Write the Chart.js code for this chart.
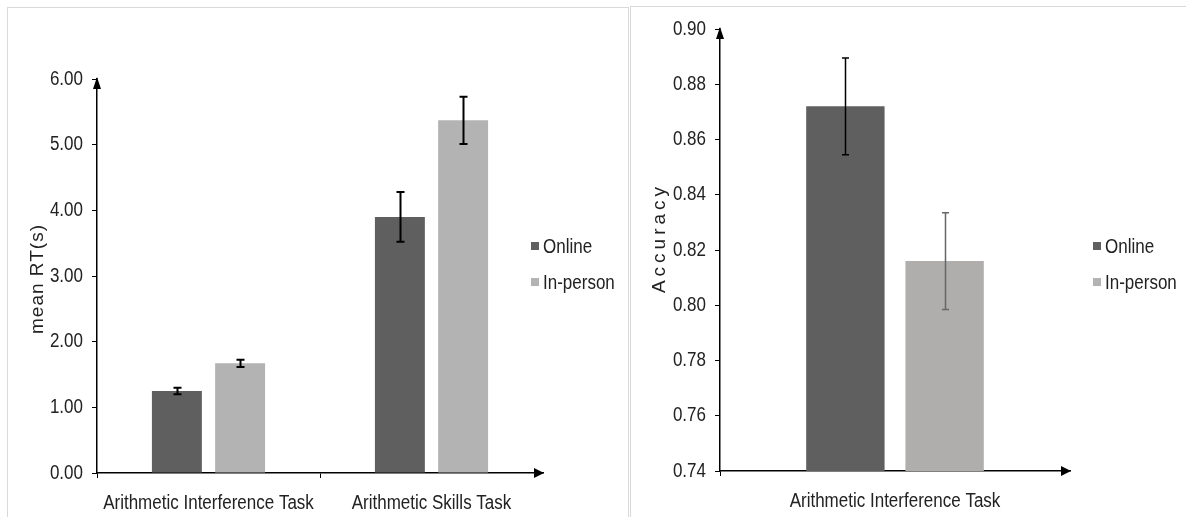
<!DOCTYPE html>
<html><head><meta charset="utf-8">
<script src="https://cdn.jsdelivr.net/npm/chart.js@4.4.0/dist/chart.umd.min.js"></script>
<style>
html,body{margin:0;padding:0;background:#fff;width:1186px;height:517px;overflow:hidden;position:relative}
.frame{position:absolute;border:1px solid #d9d9d9;box-sizing:border-box;pointer-events:none}
#f1{left:7px;top:7px;width:622px;height:540px}
#f2{left:630px;top:6px;width:620px;height:540px}
.wrap{position:absolute;top:0}
#w1{left:0;width:628px;height:517px}
#w2{left:628px;width:558px;height:517px}
canvas{display:block}
</style></head>
<body>
<div class="frame" id="f1"></div>
<div class="frame" id="f2"></div>
<div class="wrap" id="w1"><canvas id="c1" width="628" height="517"></canvas></div>
<div class="wrap" id="w2"><canvas id="c2" width="558" height="517"></canvas></div>
<script>
// ---- data ----
const seriesNames = ['Online', 'In-person'];
const rtCategories = ['Arithmetic Interference Task', 'Arithmetic Skills Task'];
const rtOnline = [1.25, 3.90];
const rtInPerson = [1.67, 5.37];
const rtOnlineErr = [0.05, 0.38];
const rtInPersonErr = [0.055, 0.36];
const rtAxisTitle = 'mean RT(s)';
const rtMin = 0, rtMax = 6, rtStep = 1;

const accCategories = ['Arithmetic Interference Task'];
const accOnline = [0.872];
const accInPerson = [0.816];
const accOnlineErr = [0.0175];
const accInPersonErr = [0.0175];
const accAxisTitle = 'Accuracy';
const accMin = 0.74, accMax = 0.90, accStep = 0.02;

// ---- styling ----
const FONT = "'Liberation Sans', Arial, sans-serif";
const TXT = '#222';
const NARROW_SCALE = 0.85; // emulate the condensed face of the original

const decor = {
  id: 'decor',
  beforeInit(chart) {
    const ctx = chart.ctx;
    const orig = ctx.fillText.bind(ctx);
    ctx.__plainFillText = orig;
    ctx.fillText = function (t, x, y) {
      ctx.save();
      ctx.translate(x, y);
      ctx.scale(NARROW_SCALE, 1);
      orig(t, 0, 0);
      ctx.restore();
    };
  },
  afterDatasetsDraw(chart, args, o) {
    const ctx = chart.ctx, ys = chart.scales.y;
    chart.data.datasets.forEach((ds, i) => {
      const meta = chart.getDatasetMeta(i);
      meta.data.forEach((bar, j) => {
        const v = ds.data[j], e = ds.errors[j];
        const x = Math.round(bar.x) + 0.5;
        const y1 = ys.getPixelForValue(v + e), y2 = ys.getPixelForValue(v - e);
        ctx.save();
        ctx.strokeStyle = ds.errorColor;
        ctx.lineWidth = o.errWidth;
        ctx.beginPath();
        ctx.moveTo(x, y1); ctx.lineTo(x, y2);
        ctx.moveTo(x - o.cap, y1); ctx.lineTo(x + o.cap, y1);
        ctx.moveTo(x - o.cap, y2); ctx.lineTo(x + o.cap, y2);
        ctx.stroke();
        ctx.restore();
      });
    });
  },
  afterDraw(chart, args, o) {
    const ctx = chart.ctx;
    const {left, right, top, bottom} = chart.chartArea;
    ctx.save();
    ctx.fillStyle = '#000';
    // y-axis arrow
    ctx.beginPath();
    ctx.moveTo(left, top - 2); ctx.lineTo(left - 4, top + 10); ctx.lineTo(left + 4, top + 10);
    ctx.closePath(); ctx.fill();
    // x-axis arrow
    ctx.beginPath();
    ctx.moveTo(right + 1, bottom); ctx.lineTo(right - 9, bottom - 5); ctx.lineTo(right - 9, bottom + 5);
    ctx.closePath(); ctx.fill();
    // axis title (regular width face)
    ctx.fillStyle = TXT;
    ctx.font = o.titleFont;
    ctx.letterSpacing = o.titleSpacing;
    ctx.textAlign = 'center';
    ctx.textBaseline = 'alphabetic';
    ctx.translate(o.titleX, o.titleY);
    ctx.rotate(-Math.PI / 2);
    ctx.__plainFillText(o.title, 0, 0);
    ctx.restore();
    // legend
    ctx.save();
    ctx.font = '20px ' + FONT;
    ctx.textBaseline = 'middle';
    ctx.textAlign = 'left';
    chart.data.datasets.forEach((ds, i) => {
      const y = o.legendY[i];
      ctx.fillStyle = ds.legendColor;
      ctx.fillRect(o.legendX, y - 5, 8, 8);
      ctx.fillStyle = TXT;
      ctx.fillText(ds.label, o.legendX + o.legendGap, y);
    });
    ctx.restore();
  }
};

function makeChart(id, cfg) {
  return new Chart(document.getElementById(id), {
    type: 'bar',
    data: {
      labels: cfg.labels,
      datasets: [
        { label: seriesNames[0], data: cfg.online, errors: cfg.onlineErr, backgroundColor: '#5f5f5f',
          legendColor: '#606060', errorColor: '#000', borderWidth: 0 },
        { label: seriesNames[1], data: cfg.inPerson, errors: cfg.inPersonErr, backgroundColor: cfg.ipColor,
          legendColor: '#b3b3b3', errorColor: cfg.ipErrColor, borderWidth: 0 }
      ]
    },
    options: {
      responsive: false, animation: false, devicePixelRatio: 1,
      layout: { padding: { left: 0, right: cfg.padRight, top: cfg.padTop, bottom: cfg.padBottom } },
      datasets: { bar: { categoryPercentage: 0.567, barPercentage: 0.79 } },
      plugins: {
        legend: { display: false }, tooltip: { enabled: false },
        decor: cfg.decor
      },
      scales: {
        x: {
          grid: { display: true, drawOnChartArea: false, drawTicks: true, tickLength: 5, offset: true,
                  color: c => (c.index === undefined ? 'rgba(0,0,0,0)' : '#000') },
          border: { display: true, color: '#000', width: 1.5 },
          ticks: { font: { family: FONT, size: 20 }, color: TXT, padding: 13, maxRotation: 0, autoSkip: false },
          afterFit(s) { s.height = 44; }
        },
        y: {
          min: cfg.min, max: cfg.max,
          grid: { display: true, drawOnChartArea: false, drawTicks: true, tickLength: 5, color: '#000' },
          border: { display: true, color: '#000', width: 1.5 },
          ticks: { stepSize: cfg.step, font: { family: FONT, size: 20 }, color: TXT, padding: 9,
                   callback: v => Number(v).toFixed(2) },
          afterFit(s) { s.width = cfg.yWidth; }
        }
      }
    },
    plugins: [decor]
  });
}

makeChart('c1', {
  labels: rtCategories, online: rtOnline, inPerson: rtInPerson,
  onlineErr: rtOnlineErr, inPersonErr: rtInPersonErr,
  ipColor: '#b3b3b3', ipErrColor: '#000',
  min: rtMin, max: rtMax, step: rtStep,
  yWidth: 97, padRight: 85, padTop: 79, padBottom: 0,
  decor: { errWidth: 2, cap: 4, title: rtAxisTitle, titleX: 43, titleY: 279,
           titleFont: '19px ' + FONT, titleSpacing: '1px',
           legendX: 531, legendGap: 12, legendY: [247, 283] }
});

makeChart('c2', {
  labels: accCategories, online: accOnline, inPerson: accInPerson,
  onlineErr: accOnlineErr, inPersonErr: accInPersonErr,
  ipColor: '#b0adad', ipErrColor: '#666',
  min: accMin, max: accMax, step: accStep,
  yWidth: 92, padRight: 116, padTop: 29, padBottom: 2,
  decor: { errWidth: 1.5, cap: 3.5, title: accAxisTitle, titleX: 37, titleY: 238,
           titleFont: '19px ' + FONT, titleSpacing: '4px',
           legendX: 465, legendGap: 12, legendY: [247, 283] }
});
</script>
</body></html>
